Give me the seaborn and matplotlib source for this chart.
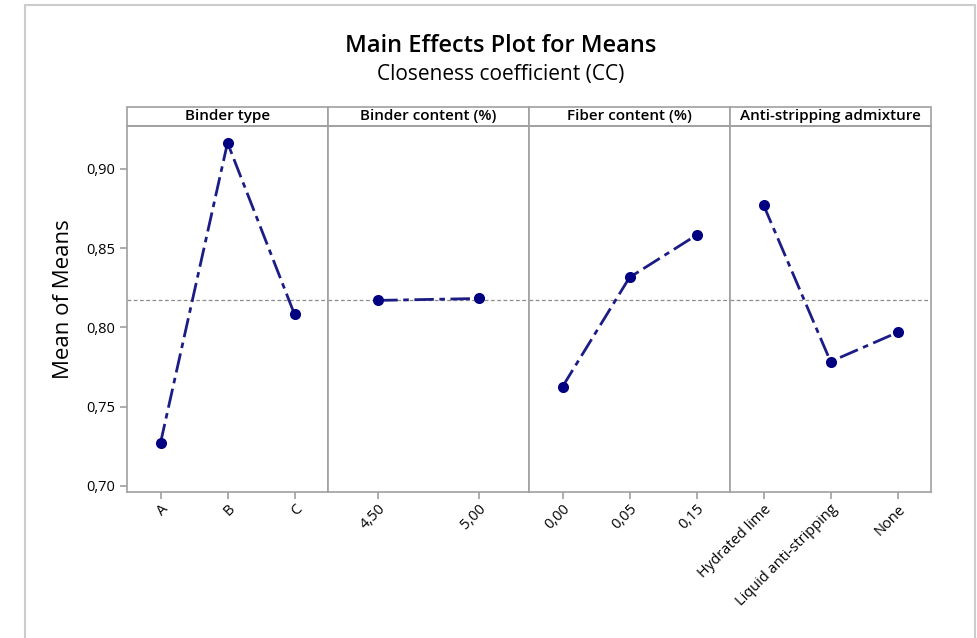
import matplotlib
matplotlib.use("Agg")
import matplotlib.pyplot as plt
from matplotlib.patches import Rectangle
from matplotlib.lines import Line2D
from matplotlib.ticker import FuncFormatter
import seaborn as sns
import pandas as pd

# data
factors = ["Binder type", "Binder content (%)", "Fiber content (%)", "Anti-stripping admixture"]
binder_type = ["A", "B", "C"]
binder_type_means = [0.7271, 0.9164, 0.8082]
binder_content = ["4,50", "5,00"]
binder_content_means = [0.8170, 0.8182]
fiber_content = ["0,00", "0,05", "0,15"]
fiber_content_means = [0.7626, 0.8315, 0.8582]
admixture = ["Hydrated lime", "Liquid anti-stripping", "None"]
admixture_means = [0.8771, 0.7784, 0.7968]
grand_mean = 0.8173

levels = [binder_type, binder_content, fiber_content, admixture]
means = [binder_type_means, binder_content_means, fiber_content_means, admixture_means]

sns.set_style("white")
plt.rcParams["font.family"] = ["Open Sans", "DejaVu Sans"]
plt.rcParams["text.color"] = "black"
plt.rcParams["axes.labelcolor"] = "black"
plt.rcParams["xtick.labelcolor"] = "black"
plt.rcParams["ytick.labelcolor"] = "black"

fig, axes = plt.subplots(1, 4, figsize=(9.77, 6.38), dpi=100, sharey=True)
fig.subplots_adjust(left=0.13, right=0.953, bottom=0.229, top=0.8025, wspace=0)

grey = "#a0a0a0"
navy = "#000080"

for i, ax in enumerate(axes):
    df = pd.DataFrame({"level": levels[i], "mean": means[i]})
    sns.lineplot(data=df, x="level", y="mean", ax=ax, color="#1c1c86",
                 linewidth=2, linestyle=(0, (7, 2, 2, 2)), sort=False,
                 marker="o", markersize=8, markerfacecolor=navy,
                 markeredgecolor=navy, markeredgewidth=0)
    ax.axhline(grand_mean, color="#8c8c8c", linestyle=(0, (3, 2)), linewidth=0.9, zorder=0)
    ax.set_xlim(-0.5, len(levels[i]) - 0.5)
    ax.set_xlabel("")
    ax.set_ylabel("")
    for sp in ax.spines.values():
        sp.set_color(grey)
        sp.set_linewidth(1.2)
    ax.tick_params(axis="x", direction="out", length=5, color=grey, width=1.2,
                   labelsize=10.5, pad=2, bottom=True)
    plt.setp(ax.get_xticklabels(), rotation=45, ha="right", rotation_mode="anchor")
    # strip header
    ax.add_patch(Rectangle((0, 1.0), 1, 0.052, transform=ax.transAxes, clip_on=False,
                           facecolor="white", edgecolor=grey, linewidth=1.2))
    ax.text(0.5, 1.026, factors[i], transform=ax.transAxes, ha="center", va="center",
            fontsize=11, fontweight="semibold")
    if i > 0:
        ax.tick_params(axis="y", left=False)

axes[0].set_ylim(0.6962, 0.927)
axes[0].set_yticks([0.70, 0.75, 0.80, 0.85, 0.90])
axes[0].yaxis.set_major_formatter(FuncFormatter(lambda v, p: f"{v:.2f}".replace(".", ",")))
axes[0].tick_params(axis="y", direction="out", length=5, color=grey, width=1.2,
                    labelsize=10.5, left=True)
axes[0].set_ylabel("Mean of Means", fontsize=16)
axes[0].yaxis.set_label_coords(-0.265, 0.527)

fig.text(0.512, 0.928, "Main Effects Plot for Means", ha="center", va="center",
         fontsize=17, fontweight="semibold")
fig.text(0.512, 0.884, "Closeness coefficient (CC)", ha="center", va="center", fontsize=15)

# outer graph frame
frame = "#cccccc"
fig.add_artist(Line2D([25 / 977, 25 / 977], [0, 1 - 5 / 638], transform=fig.transFigure, color=frame, lw=1.5))
fig.add_artist(Line2D([25 / 977, 975 / 977], [1 - 5 / 638, 1 - 5 / 638], transform=fig.transFigure, color=frame, lw=1.5))
fig.add_artist(Line2D([975 / 977, 975 / 977], [0, 1 - 5 / 638], transform=fig.transFigure, color=frame, lw=1.5))

fig.savefig("out.png", dpi=100)
plt.close(fig)
